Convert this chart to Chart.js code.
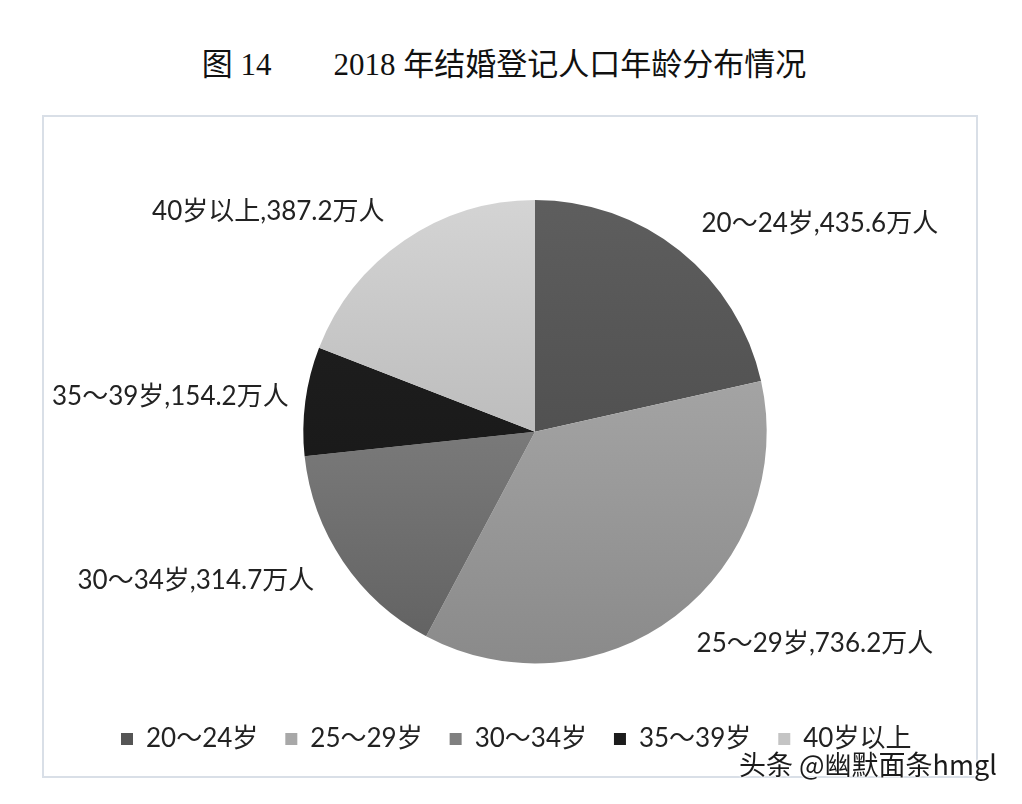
<!DOCTYPE html>
<html>
<head>
<meta charset="utf-8">
<script src="https://cdn.jsdelivr.net/npm/chart.js@4"></script>
<style>
  html, body { margin: 0; padding: 0; background: #fff; }
  body { width: 1022px; height: 804px; position: relative; overflow: hidden; }
  #title {
    position: absolute; left: 0; width: 1008px; top: 39px; text-align: center;
    font-family: "Liberation Serif", "Noto Sans CJK SC", serif; font-size: 31px; color: #111;
    white-space: pre;
  }
  #box {
    position: absolute; left: 42px; top: 115px; width: 932px; height: 659px;
    border: 2px solid #d9dfe7;
  }
  #wrap { position: absolute; left: 44px; top: 117px; width: 932px; height: 659px; }
  #mark {
    position: absolute; left: 739px; top: 746px; font-size: 27px; line-height: 36px; color: #1a1a1a;
    font-family: "Noto Sans CJK SC", sans-serif;
    text-shadow: 0 0 3px #fff, 0 0 3px #fff, 0 0 2px #fff;
  }
</style>
</head>
<body>
<div id="title">图 14　　2018 年结婚登记人口年龄分布情况</div>
<div id="box"></div>
<div id="wrap"><canvas id="pie"></canvas></div>
<div id="mark">头条 @幽默面条hmgl</div>
<script>
const categories = ["20～24岁", "25～29岁", "30～34岁", "35～39岁", "40岁以上"];
const values = [435.6, 736.2, 314.7, 154.2, 387.2];
const valueLabels = ["435.6", "736.2", "314.7", "154.2", "387.2"];

const topColors = ["#5e5e5e", "#b4b4b4", "#939393", "#212121", "#d4d4d4"];
const bottomColors = ["#444444", "#8a8a8a", "#606060", "#141414", "#a6a6a6"];
const legendColors = ["#555555", "#a8a8a8", "#808080", "#1c1c1c", "#c4c4c4"];

const FONT = 'Lato, "Noto Sans CJK SC", sans-serif';

function sliceFill(ctx) {
  const chart = ctx.chart;
  const area = chart.chartArea;
  const i = ctx.dataIndex;
  if (!area || !isFinite(area.top) || !isFinite(area.bottom)) return legendColors[i];
  const cy = (area.top + area.bottom) / 2;
  const r = Math.min(area.right - area.left, area.bottom - area.top) / 2;
  const g = chart.ctx.createLinearGradient(0, cy - r, 0, cy + r);
  g.addColorStop(0, topColors[i]);
  g.addColorStop(1, bottomColors[i]);
  return g;
}

// labels outside the slices, kept inside the canvas
const outsideLabels = {
  id: "outsideLabels",
  afterDatasetsDraw(chart) {
    const ctx = chart.ctx;
    const meta = chart.getDatasetMeta(0);
    const margin = 8;
    ctx.save();
    ctx.font = "26px " + FONT;
    ctx.fillStyle = "#222";
    ctx.textBaseline = "middle";
    meta.data.forEach((arc, i) => {
      const text = categories[i] + "," + valueLabels[i] + "万人";
      const w = ctx.measureText(text).width;
      const mid = (arc.startAngle + arc.endAngle) / 2;
      const rr = arc.outerRadius * 1.15;
      let x = arc.x + Math.cos(mid) * rr;
      const y = arc.y + Math.sin(mid) * rr;
      if (Math.cos(mid) >= 0) {
        ctx.textAlign = "left";
        x = Math.min(x, chart.width - margin - w);
      } else {
        ctx.textAlign = "right";
        x = Math.max(x, margin + w);
      }
      ctx.fillText(text, x, y);
    });
    ctx.restore();
  },
};

new Chart(document.getElementById("pie").getContext("2d"), {
  type: "pie",
  data: {
    labels: categories,
    datasets: [
      {
        data: values,
        backgroundColor: sliceFill,
        borderWidth: 0,
      },
    ],
  },
  options: {
    responsive: true,
    maintainAspectRatio: false,
    animation: false,
    layout: { padding: { top: 83, left: 50, right: 0, bottom: 14 } },
    plugins: {
      tooltip: { enabled: false },
      legend: {
        position: "bottom",
        align: "start",
        title: { display: true, text: " ", font: { size: 8 }, padding: { top: 26, bottom: 0 } },
        labels: {
          color: "#222",
          font: { family: FONT, size: 26 },
          boxWidth: 12,
          boxHeight: 12,
          padding: 27,
          generateLabels: (chart) =>
            categories.map((c, i) => ({
              text: c,
              fillStyle: legendColors[i],
              strokeStyle: legendColors[i],
              fontColor: "#222",
              lineWidth: 0,
              index: i,
            })),
        },
      },
    },
  },
  plugins: [outsideLabels],
});
</script>
</body>
</html>
